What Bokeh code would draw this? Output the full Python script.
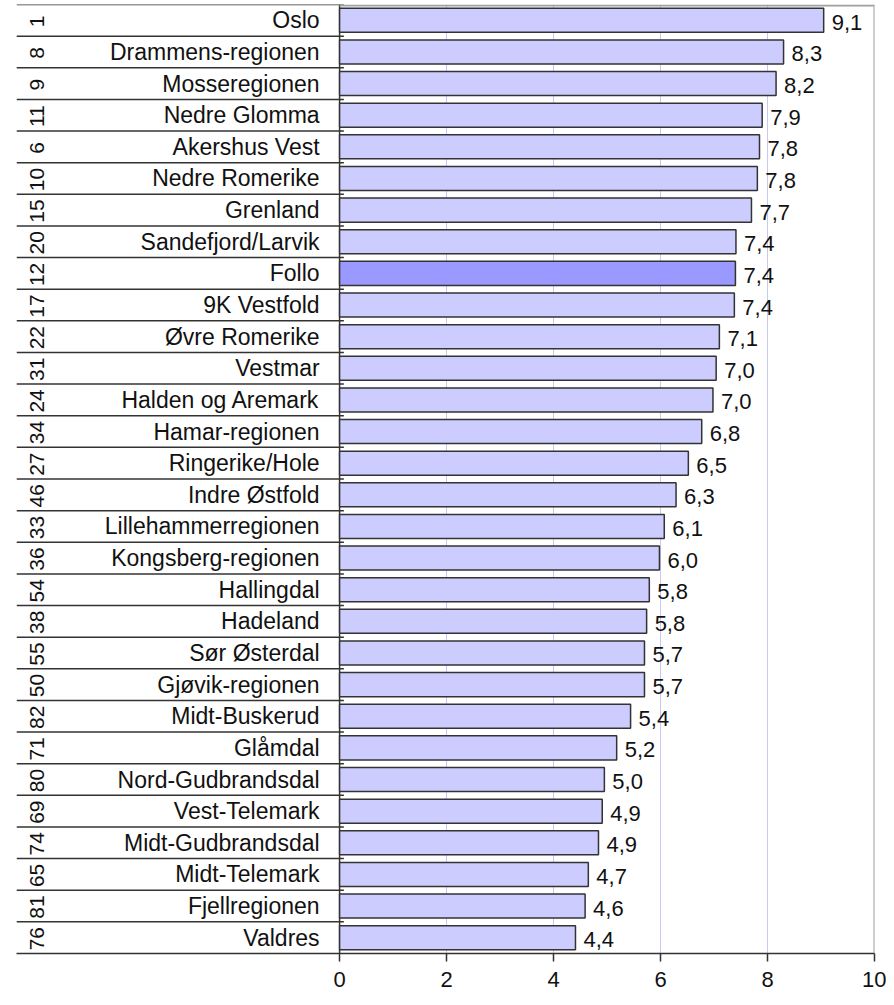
import numpy as np
from bokeh.plotting import figure
from bokeh.models import Range1d, FixedTicker, ColumnDataSource
from bokeh.core.properties import value
from bokeh.embed import file_html
from bokeh.resources import INLINE

# ---- data ----
regions = ["Oslo", "Drammens-regionen", "Mosseregionen", "Nedre Glomma", "Akershus Vest",
           "Nedre Romerike", "Grenland", "Sandefjord/Larvik", "Follo", "9K Vestfold",
           "Øvre Romerike", "Vestmar", "Halden og Aremark", "Hamar-regionen", "Ringerike/Hole",
           "Indre Østfold", "Lillehammerregionen", "Kongsberg-regionen", "Hallingdal", "Hadeland",
           "Sør Østerdal", "Gjøvik-regionen", "Midt-Buskerud", "Glåmdal", "Nord-Gudbrandsdal",
           "Vest-Telemark", "Midt-Gudbrandsdal", "Midt-Telemark", "Fjellregionen", "Valdres"]
ranks = ["1", "8", "9", "11", "6", "10", "15", "20", "12", "17", "22", "31", "24", "34", "27",
         "46", "33", "36", "54", "38", "55", "50", "82", "71", "80", "69", "74", "65", "81", "76"]
values = [9.05, 8.30, 8.16, 7.90, 7.85, 7.81, 7.70, 7.41, 7.40, 7.38, 7.10, 7.04, 6.98, 6.77, 6.52,
          6.29, 6.07, 5.98, 5.79, 5.74, 5.70, 5.70, 5.44, 5.18, 4.95, 4.91, 4.84, 4.65, 4.59, 4.41]
value_labels = ["9,1", "8,3", "8,2", "7,9", "7,8", "7,8", "7,7", "7,4", "7,4", "7,4", "7,1", "7,0",
                "7,0", "6,8", "6,5", "6,3", "6,1", "6,0", "5,8", "5,8", "5,7", "5,7", "5,4", "5,2",
                "5,0", "4,9", "4,9", "4,7", "4,6", "4,4"]
highlight = "Follo"
x_ticks = [0, 2, 4, 6, 8, 10]
grid_ticks = [2, 4, 6, 8]

n = len(regions)
rows = [i + 0.5 for i in range(n)]
colors = ["#9999ff" if r == highlight else "#ccccff" for r in regions]

XL = -6.04  # left edge of table in data units
FONT = "Liberation Sans"

p = figure(width=886, height=997, output_backend="svg", toolbar_location=None,
           x_range=Range1d(XL, 10), y_range=Range1d(n, 0),
           min_border_left=16, min_border_right=12, min_border_top=4, min_border_bottom=44,
           y_axis_location=None)
p.outline_line_color = None
p.background_fill_color = "white"
p.border_fill_color = "white"

p.ygrid.grid_line_color = None
p.xgrid.ticker = FixedTicker(ticks=grid_ticks)
p.xgrid.grid_line_color = "#c8c8f4"
p.xgrid.grid_line_width = 1

# table lines
bounds = list(range(n))
p.segment(x0=[XL] * n, x1=[0.08] * n, y0=bounds, y1=bounds, line_color="#333333", line_width=1.5)
# plot area borders
p.segment(x0=[0], x1=[0], y0=[0], y1=[n], line_color="#333333", line_width=1.5)
p.segment(x0=[0, 10], x1=[10, 10], y0=[0.03, 0], y1=[0.03, n], line_color="#a0a0a0", line_width=2)

src = ColumnDataSource(dict(y=rows, v=values, lab=value_labels, name=regions, rank=ranks, c=colors))
p.hbar(y="y", left=0, right="v", height=0.76, fill_color="c", line_color="#333333",
       line_width=1.5, source=src)

p.text(x="v", y="y", text="lab", source=src, x_offset=8, y_offset=2,
       text_align="left", text_baseline="middle", text_font=value(FONT),
       text_font_size="22px", text_color="#111111")
p.text(x=0, y="y", text="name", source=src, x_offset=-20, y_offset=0,
       text_align="right", text_baseline="middle", text_font=value(FONT),
       text_font_size="23px", text_color="#111111")
p.text(x=XL, y="y", text="rank", source=src, x_offset=20, y_offset=1, angle=np.pi / 2,
       text_align="center", text_baseline="middle", text_font=value(FONT),
       text_font_size="21px", text_color="#111111")

ax = p.xaxis[0]
ax.ticker = FixedTicker(ticks=x_ticks)
ax.axis_line_color = "#333333"
ax.axis_line_width = 1.5
ax.major_tick_in = 0
ax.major_tick_out = 8
ax.major_tick_line_color = "#333333"
ax.major_tick_line_width = 1.5
ax.minor_tick_line_color = None
ax.major_label_standoff = 10
ax.major_label_text_font = FONT
ax.major_label_text_font_size = "22px"
ax.major_label_text_color = "#111111"

open("out.html", "w").write(file_html(p, INLINE))
